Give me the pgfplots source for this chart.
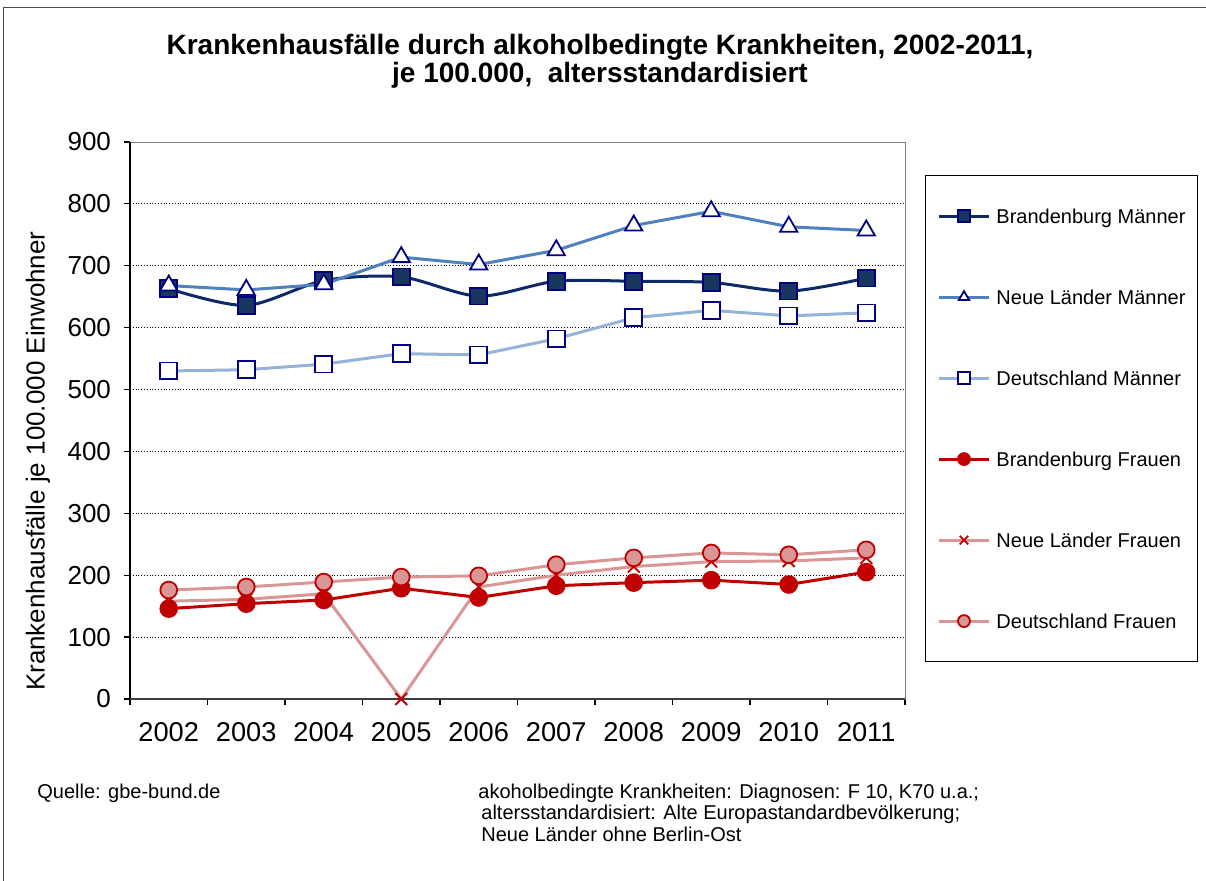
\documentclass[border=0pt]{standalone}
\usepackage{fontspec}
\setmainfont{Liberation Sans}
\usepackage{pgfplots}
\pgfplotsset{compat=1.18}

\definecolor{bmline}{HTML}{0E2A66}
\definecolor{bmfill}{HTML}{17375E}
\definecolor{navymark}{HTML}{000080}
\definecolor{nlmline}{HTML}{4F81BD}
\definecolor{dmline}{HTML}{95B3D7}
\definecolor{bfred}{HTML}{C00000}
\definecolor{pinkline}{HTML}{D99694}

\begin{document}
\begin{tikzpicture}
% 1 px of the reference = 0.5pt
\path[use as bounding box] (0,0) rectangle (603pt,440.5pt);
\draw[gray!60!black, line width=0.5pt] (1.5pt,0) -- (1.5pt,436.5pt) -- (603pt,436.5pt);

\node[font=\fontsize{14}{14}\selectfont\bfseries, align=center] at (300pt,410pt)
  {Krankenhausfälle durch alkoholbedingte Krankheiten, 2002-2011,\\je 100.000,\ \ altersstandardisiert};

\begin{axis}[
    at={(65pt,91pt)}, anchor=south west,
    width=387.5pt, height=278.5pt, scale only axis,
    xmin=-0.5, xmax=9.5, ymin=0, ymax=900,
    xtick={-0.5,0.5,...,9.5},
    x tick label as interval,
    xticklabels={2002,2003,2004,2005,2006,2007,2008,2009,2010,2011},
    ytick={0,100,...,900},
    tick pos=left, tick align=outside, major tick length=3pt,
    tick style={black, line width=0.6pt},
    axis line style={draw=gray},
    ymajorgrids, grid style={black, densely dotted, line width=0.45pt},
    tick label style={font=\fontsize{13}{15}\selectfont},
    /pgf/number format/assume math mode=true,
    yticklabel style={xshift=-3pt},
    xticklabel style={yshift=-5pt, font=\fontsize{13.6}{15}\selectfont},
    ylabel={Krankenhausfälle je 100.000 Einwohner},
    ylabel style={at={(axis description cs:-0.1187,0.427)}, anchor=center, font=\fontsize{13}{15}\selectfont},
    clip=false,
    legend style={at={(axis description cs:1.0258,0.9408)}, anchor=north west,
        draw=black, line width=0.5pt, inner xsep=6pt, inner ysep=15.3pt,
        row sep=30.5pt, column sep=3pt,
        font=\fontsize{10}{12}\selectfont,
        nodes={inner sep=0pt, text height=8.6pt, text depth=1.4pt}},
    legend cell align=left,
    legend image code/.code={\draw[mark repeat=2, mark phase=2, mark size=3pt, #1]
        plot coordinates {(0pt,0pt) (12.5pt,0pt) (25pt,0pt)};},
]

\addplot[color=bmline, line width=1.5pt, smooth, mark=square*, mark size=4.2pt,
    mark options={fill=bmfill, draw=navymark, line width=0.9pt}] coordinates {
    (0,663) (1,636) (2,676) (3,682) (4,651) (5,675) (6,675) (7,673) (8,659) (9,680)
};
\addlegendentry{Brandenburg Männer}

\addplot[color=nlmline, line width=1.5pt, mark=triangle*, mark size=5pt,
    mark options={fill=white, draw=navymark, line width=0.9pt}] coordinates {
    (0,668) (1,661) (2,670) (3,714) (4,702) (5,725) (6,765) (7,788) (8,763) (9,757)
};
\addlegendentry{Neue Länder Männer}

\addplot[color=dmline, line width=1.5pt, mark=square*, mark size=4.2pt,
    mark options={fill=white, draw=navymark, line width=0.9pt}] coordinates {
    (0,530) (1,532) (2,541) (3,558) (4,556) (5,582) (6,616) (7,628) (8,619) (9,624)
};
\addlegendentry{Deutschland Männer}

\addplot[color=bfred, line width=1.5pt, mark=*, mark size=4.2pt,
    mark options={fill=bfred, draw=bfred, line width=0.9pt}] coordinates {
    (0,146) (1,154) (2,160) (3,179) (4,164) (5,183) (6,188) (7,192) (8,185) (9,205)
};
\addlegendentry{Brandenburg Frauen}

\addplot[color=pinkline, line width=1.5pt, mark=x, mark size=4.2pt,
    mark options={draw=bfred, line width=0.9pt}] coordinates {
    (0,158) (1,161) (2,170) (3,0) (4,181) (5,200) (6,214) (7,222) (8,223) (9,228)
};
\addlegendentry{Neue Länder Frauen}

\addplot[color=pinkline, line width=1.5pt, mark=*, mark size=4.2pt,
    mark options={fill=pinkline, draw=bfred, line width=0.9pt}] coordinates {
    (0,176) (1,181) (2,189) (3,197) (4,199) (5,217) (6,228) (7,236) (8,233) (9,241)
};
\addlegendentry{Deutschland Frauen}

\draw[black, line width=0.7pt] (rel axis cs:0,0) -- (rel axis cs:0,1);
\draw[gray!50!black, line width=0.7pt] (rel axis cs:0,0) -- (rel axis cs:1,0);
\end{axis}

\begin{scope}[every node/.style={anchor=base west, inner sep=0pt, font=\fontsize{10}{12}\selectfont}]
\node at (18.5pt,41pt) {Quelle: gbe-bund.de};
\node at (239pt,41pt) {akoholbedingte Krankheiten: Diagnosen: F 10, K70 u.a.;};
\node at (240.5pt,30.5pt) {altersstandardisiert: Alte Europastandardbevölkerung;};
\node at (240.5pt,19.5pt) {Neue Länder ohne Berlin-Ost};
\end{scope}
\end{tikzpicture}
\end{document}
